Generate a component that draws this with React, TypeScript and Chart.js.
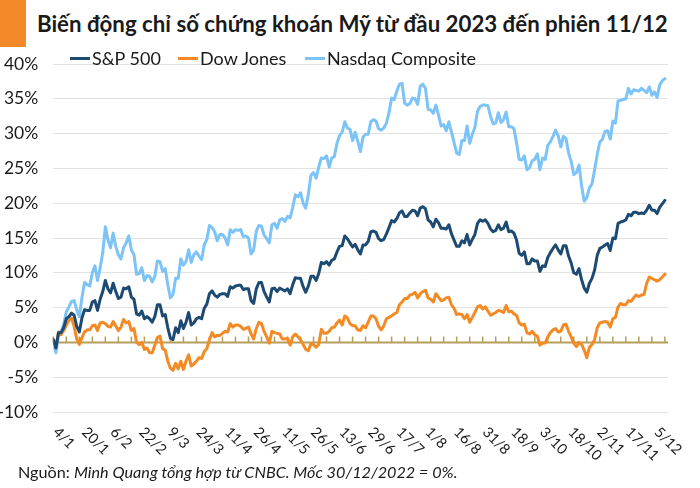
import React, { useEffect, useRef } from "react";
import { Chart, registerables } from "chart.js";

Chart.register(...registerables);

// % change vs. close of 30/12/2022, trading sessions from 4/1/2023 to 11/12/2023
const SP500: number[] = [
  0.4, -0.8, 1.4, 1.4, 2.1, 3.4, 3.7, 4.2, 3.9, 2.3, 1.5, 3.5, 4.7, 4.6, 4.6, 5.8, 6.0, 4.6, 6.2,
  7.3, 8.9, 7.7, 7.1, 8.5, 7.3, 6.3, 6.5, 7.8, 7.7, 8.0, 6.5, 6.2, 4.1, 3.9, 4.5, 3.4, 3.7, 3.4,
  2.9, 3.7, 5.4, 5.4, 3.8, 4.0, 2.1, 0.6, 0.4, 2.1, 1.4, 3.1, 2.0, 2.9, 4.3, 2.5, 2.8, 3.4, 3.6, 3.4, 4.9, 5.5, 7.0,
  7.4, 6.8, 6.5, 6.9, 7.0, 7.0, 6.6, 8.0, 7.8, 8.1, 8.2, 8.2, 7.6, 7.7, 7.7, 6.0, 5.6, 7.7, 8.6,
  8.6, 7.3, 6.5, 5.8, 7.7, 7.8, 7.3, 7.8, 7.6, 7.4, 7.7, 7.0, 8.3, 9.3, 9.2, 9.2, 8.0, 7.2, 8.1, 9.5, 9.5, 8.9,
  9.9, 11.5, 11.3, 11.6, 11.1, 11.8, 12.0, 13.0, 13.8, 13.9, 15.3, 14.9, 14.3, 13.7, 14.1, 13.3, 12.7, 14.0, 14.0, 14.5, 15.9,
  16.0, 15.8, 14.9, 14.6, 14.8, 15.6, 16.5, 17.5, 17.3, 17.8, 18.6, 18.9, 18.1, 18.1, 18.6, 19.0, 18.9, 18.2, 19.3, 19.5,
  19.2, 17.6, 17.3, 16.6, 17.7, 17.2, 16.4, 16.4, 16.3, 16.9, 15.6, 14.7, 13.8, 13.8, 14.6, 14.3, 15.5, 14.0, 14.8, 15.5, 17.1, 17.6, 17.4,
  17.6, 17.1, 16.3, 15.9, 16.1, 16.9, 16.2, 16.4, 17.3, 15.9, 16.0, 15.7, 14.7, 12.8, 12.5, 13.0, 11.3, 11.3, 12.0, 11.7,
  11.7, 10.2, 11.0, 10.9, 12.2, 12.9, 13.5, 14.0, 13.3, 12.7, 13.9, 13.9, 12.4, 11.4, 10.0, 9.8, 10.6, 9.0, 7.8, 7.2, 8.5, 9.2,
  10.4, 12.5, 13.5, 13.7, 14.0, 14.2, 13.2, 15.0, 14.9, 17.1, 17.3, 17.4, 17.6, 18.4, 18.2, 18.7, 18.7, 18.5, 18.6, 18.5, 19.0,
  19.7, 19.0, 19.0, 18.5, 19.4, 19.9, 20.4,
];

const DOW_JONES: number[] = [
  0.4, -0.7, 1.5, 1.1, 1.7, 2.5, 3.1, 3.5, 2.3, 0.5, -0.3, 0.7, 1.5, 1.8, 1.8, 2.4, 2.5, 1.7, 2.8,
  2.9, 2.7, 2.3, 2.2, 3.0, 2.4, 1.7, 2.2, 3.3, 2.8, 3.0, 1.7, 2.0, 0.0, -0.3, 0.0, -1.0, -0.8, -1.5,
  -1.5, -0.4, 0.7, 0.9, -0.9, -1.1, -2.7, -3.7, -4.0, -3.0, -3.8, -2.7, -3.9, -2.7, -1.8, -3.4, -3.1, -2.7, -2.2, -2.3, -1.3, -0.9, 0.4,
  1.4, 0.8, 1.0, 1.0, 1.3, 1.6, 1.5, 2.7, 2.2, 2.5, 2.5, 2.3, 1.9, 2.0, 2.2, 1.2, 0.5, 2.0, 2.9,
  2.7, 1.6, 0.8, -0.1, 1.6, 1.4, 1.3, 1.2, 0.5, 0.5, 0.6, -0.4, 0.8, 1.2, 0.8, 0.4, -0.3, -1.0, -1.2, -0.2, -0.3, -0.7,
  -0.3, 1.9, 1.3, 1.3, 1.6, 2.1, 2.2, 2.8, 3.2, 2.5, 3.8, 3.5, 2.7, 2.4, 2.4, 1.8, 1.7, 2.4, 2.1, 2.9, 3.8,
  3.8, 3.4, 2.3, 1.8, 2.4, 3.4, 3.6, 3.8, 4.1, 4.3, 5.4, 5.8, 6.3, 6.3, 6.8, 6.9, 7.2, 6.4, 7.0, 7.3,
  7.5, 6.4, 6.2, 5.8, 7.0, 6.5, 6.0, 6.1, 6.4, 6.5, 5.4, 4.9, 4.0, 4.1, 4.0, 3.4, 4.0, 2.9, 3.6, 4.3, 5.1, 5.3, 4.8,
  5.1, 4.5, 3.9, 4.1, 4.3, 4.6, 4.5, 4.3, 5.3, 4.4, 4.5, 4.1, 3.9, 2.8, 2.5, 2.6, 1.4, 1.2, 1.6, 1.1,
  0.9, -0.4, -0.1, -0.1, 0.8, 1.4, 1.8, 2.0, 1.5, 1.6, 2.5, 2.6, 1.6, 0.8, -0.1, -0.6, 0.0, -0.3, -1.1, -2.2, -0.7, -0.3,
  0.4, 2.1, 2.8, 2.9, 3.0, 2.9, 2.2, 3.4, 3.6, 5.1, 5.6, 5.4, 5.4, 6.0, 5.9, 6.4, 6.8, 6.6, 6.8, 6.9, 8.5,
  9.4, 9.2, 9.0, 8.8, 9.0, 9.4, 9.8,
];

const NASDAQ: number[] = [
  -0.1, -1.5, 1.0, 1.6, 2.6, 4.4, 5.1, 5.9, 6.0, 4.7, 3.7, 6.4, 8.6, 8.3, 8.1, 10.0, 11.0, 8.9, 10.7,
  12.9, 16.6, 14.7, 13.6, 15.7, 13.8, 12.6, 12.0, 13.6, 14.3, 15.3, 13.3, 12.6, 9.8, 9.9, 10.7, 8.9, 9.6, 9.5,
  8.7, 9.5, 11.7, 11.6, 10.2, 10.6, 8.3, 6.4, 6.9, 9.2, 9.2, 12.0, 11.1, 11.6, 13.3, 11.5, 12.6, 13.0, 12.4, 11.9, 14.0, 14.8, 16.8,
  16.5, 15.9, 14.6, 15.5, 15.5, 15.0, 14.0, 16.2, 15.8, 16.2, 16.1, 16.2, 15.2, 15.3, 15.0, 12.7, 13.3, 16.0, 16.8,
  16.7, 15.4, 14.9, 14.3, 16.9, 17.1, 16.4, 17.6, 17.8, 17.4, 18.1, 17.9, 19.4, 21.2, 20.9, 21.5, 20.0, 19.3, 21.3, 24.0, 24.4, 23.6,
  25.2, 26.5, 26.4, 26.8, 25.2, 26.5, 26.7, 28.6, 29.7, 30.2, 31.7, 30.8, 30.6, 29.0, 30.2, 28.9, 27.4, 29.5, 29.9, 29.9, 31.7,
  32.0, 31.8, 30.7, 30.5, 30.8, 31.5, 33.0, 35.1, 34.9, 36.1, 37.1, 37.2, 34.4, 34.1, 34.3, 35.1, 35.0, 34.2, 36.8, 37.1,
  36.5, 33.5, 33.4, 32.9, 34.1, 32.7, 31.1, 31.3, 30.4, 31.7, 30.2, 28.7, 27.2, 27.0, 29.0, 29.0, 31.1, 28.6, 29.9, 30.9, 33.2, 33.9, 34.1,
  34.1, 34.0, 32.5, 31.4, 31.5, 33.0, 31.6, 32.0, 33.1, 31.0, 31.0, 30.7, 28.7, 26.3, 26.2, 26.8, 24.8, 25.1, 26.1, 26.3,
  27.1, 24.8, 26.5, 26.3, 28.3, 28.8, 29.6, 30.5, 29.7, 28.1, 29.6, 29.3, 27.2, 26.0, 24.1, 24.4, 25.5, 22.5, 20.3, 20.8, 22.2, 22.8,
  24.8, 27.0, 28.8, 29.2, 30.3, 30.4, 29.2, 31.8, 31.5, 34.7, 34.8, 34.9, 35.0, 36.5, 35.7, 36.3, 36.2, 36.1, 36.5, 36.2, 35.9,
  36.7, 35.5, 36.0, 35.2, 37.0, 37.6, 37.9,
];

// Date labels shown on the x axis, one every 11 sessions starting at the first session
const X_TICK_LABELS: string[] = [
  "4/1", "20/1", "6/2", "22/2", "9/3", "24/3", "11/4", "26/4", "11/5", "26/5", "13/6",
  "29/6", "17/7", "1/8", "16/8", "31/8", "18/9", "3/10", "18/10", "2/11", "17/11", "5/12",
];
const LABEL_EVERY = 11;
const TICK_MARK_EVERY = 5;

const SERIES_NAMES = ["S&P 500", "Dow Jones", "Nasdaq Composite"];
const SERIES_COLORS = ["#1d4a73", "#f48a24", "#7cc3f8"];

const Y_MIN = -10;
const Y_MAX = 40;
const Y_STEP = 5;

const TITLE = "Biến động chỉ số chứng khoán Mỹ từ đầu 2023 đến phiên 11/12";
const SOURCE_LEAD = "Nguồn: ";
const SOURCE_TEXT = "Minh Quang tổng hợp từ CNBC. Mốc 30/12/2022 = 0%.";

const AXIS_COLOR = "#b59d5c";
const FONT = "Lato, 'Noto Sans', sans-serif";

const decorPlugin = {
  id: "decor",
  beforeDatasetsDraw(chart: any) {
    const { ctx, chartArea, scales } = chart;
    const xs = scales.x;
    const ys = scales.y;
    const y0 = Math.round(ys.getPixelForValue(0)) + 0.5;
    ctx.save();
    ctx.strokeStyle = AXIS_COLOR;
    ctx.lineWidth = 2;
    ctx.beginPath();
    ctx.moveTo(chartArea.left, y0);
    ctx.lineTo(chartArea.right, y0);
    ctx.stroke();
    ctx.lineWidth = 1.5;
    ctx.beginPath();
    for (let i = 0; i < SP500.length; i += TICK_MARK_EVERY) {
      const px = xs.getPixelForValue(i);
      ctx.moveTo(px, y0);
      ctx.lineTo(px, y0 - 6);
    }
    ctx.stroke();
    ctx.restore();
  },
  afterDraw(chart: any) {
    const { ctx, scales } = chart;
    const xs = scales.x;
    ctx.save();
    ctx.fillStyle = "#1a1a1a";
    ctx.font = `14.5px ${FONT}`;
    ctx.textAlign = "left";
    ctx.textBaseline = "alphabetic";
    X_TICK_LABELS.forEach((lab, k) => {
      const px = xs.getPixelForValue(k * LABEL_EVERY);
      ctx.save();
      ctx.translate(px - 1, 433);
      ctx.rotate(Math.PI / 4);
      ctx.fillText(lab, 0, 0);
      ctx.restore();
    });
    ctx.restore();
  },
};

export default function App() {
  const canvasRef = useRef<HTMLCanvasElement | null>(null);

  useEffect(() => {
    const canvas = canvasRef.current;
    if (!canvas) return;
    const series = [SP500, DOW_JONES, NASDAQ];
    const chart = new Chart(canvas, {
      type: "line",
      data: {
        datasets: series.map((vals, s) => ({
          label: SERIES_NAMES[s],
          data: vals.map((v, i) => ({ x: i, y: v })),
          borderColor: SERIES_COLORS[s],
          backgroundColor: SERIES_COLORS[s],
          borderWidth: 3,
          pointRadius: 0,
          tension: 0,
          borderJoinStyle: "round" as const,
          borderCapStyle: "round" as const,
        })),
      },
      options: {
        animation: false,
        responsive: false,
        maintainAspectRatio: false,
        layout: { padding: { top: 64, bottom: 76, left: 0, right: 32 } },
        plugins: { legend: { display: false }, tooltip: { enabled: false } },
        scales: {
          x: { type: "linear", min: 0, max: SP500.length + 0.2, display: false },
          y: {
            min: Y_MIN,
            max: Y_MAX,
            ticks: {
              stepSize: Y_STEP,
              callback: (v: any) => `${v}%`,
              font: { family: FONT, size: 17.5 },
              color: "#1a1a1a",
              padding: 15,
            },
            grid: {
              color: (c: any) => (c.tick && c.tick.value === 0 ? "rgba(0,0,0,0)" : "#e2e2e2"),
              drawTicks: false,
              lineWidth: 1,
            },
            border: { display: false },
            afterFit: (s: any) => {
              s.width = 53.3;
            },
          },
        },
      },
      plugins: [decorPlugin],
    });
    return () => chart.destroy();
  }, []);

  const legendLefts = [70, 178, 305];

  return (
    <div
      style={{
        position: "absolute",
        left: 0,
        top: 0,
        width: 700,
        height: 488,
        background: "#fff",
        overflow: "hidden",
        fontFamily: FONT,
        color: "#1a1a1a",
      }}
    >
      <div style={{ position: "absolute", left: 0, top: 0, width: 26, height: 47, background: "#f28a2a" }} />
      <div
        style={{
          position: "absolute",
          left: 37,
          top: 12.5,
          fontSize: 22.25,
          lineHeight: 1,
          fontWeight: 700,
          whiteSpace: "nowrap",
        }}
      >
        {TITLE}
      </div>
      <canvas
        ref={canvasRef}
        width={700}
        height={488}
        style={{ position: "absolute", left: 0, top: 0, width: 700, height: 488 }}
      />
      {SERIES_NAMES.map((name, s) => (
        <div
          key={name}
          style={{
            position: "absolute",
            left: legendLefts[s],
            top: 49,
            fontSize: 18,
            lineHeight: 1,
            whiteSpace: "nowrap",
            display: "flex",
            alignItems: "center",
          }}
        >
          <span
            style={{
              display: "inline-block",
              width: 20,
              height: 3,
              background: SERIES_COLORS[s],
              marginRight: 2,
            }}
          />
          <span>{name}</span>
        </div>
      ))}
      <div
        style={{
          position: "absolute",
          left: 18,
          top: 463.8,
          fontSize: 16.2,
          lineHeight: 1,
          whiteSpace: "nowrap",
        }}
      >
        {SOURCE_LEAD}
        <i>{SOURCE_TEXT}</i>
      </div>
    </div>
  );
}
